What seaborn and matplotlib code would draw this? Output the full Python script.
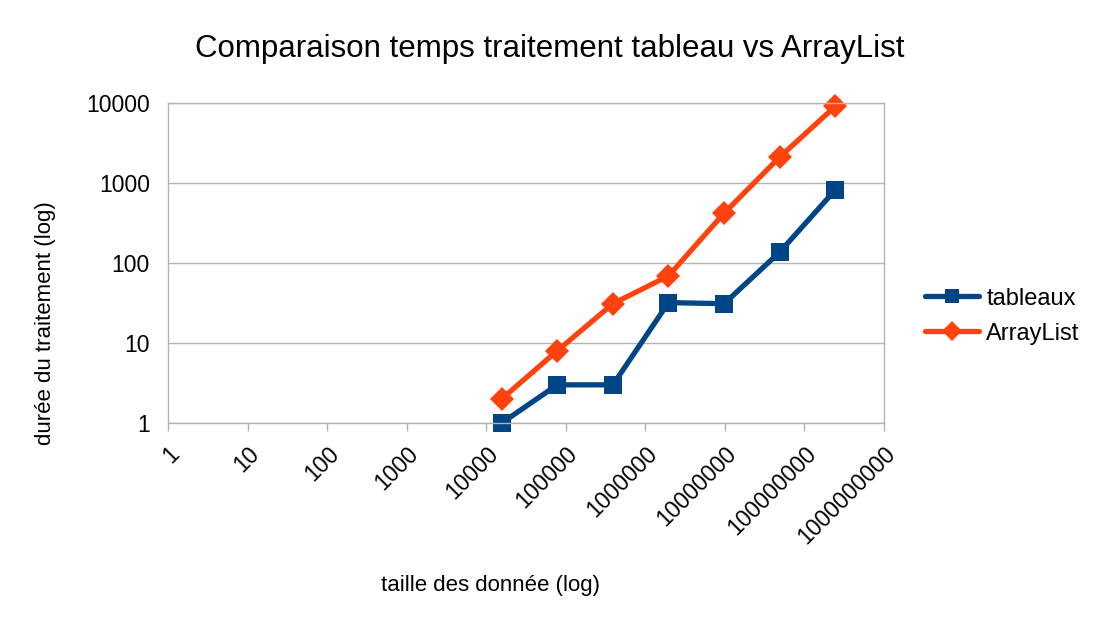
import matplotlib
matplotlib.use("Agg")
import matplotlib.pyplot as plt
import matplotlib.ticker as mticker
import pandas as pd
import seaborn as sns

# Données (échelles log)
tailles = [15625, 78125, 390625, 1953125, 9765625, 48828125, 244140625]
tableaux = [1, 3, 3, 32, 31, 137, 820]
arraylist = [2, 8, 31, 69, 420, 2110, 9120]
series = ["tableaux", "ArrayList"]
x_ticks = [10 ** k for k in range(10)]
y_ticks = [1, 10, 100, 1000, 10000]

df = pd.DataFrame({
    "taille": tailles * 2,
    "duree": tableaux + arraylist,
    "serie": [series[0]] * len(tailles) + [series[1]] * len(tailles),
})

sns.set_theme(style="white")
plt.rcParams["font.family"] = ["Liberation Sans", "DejaVu Sans"]
plt.rcParams["text.color"] = "black"
plt.rcParams["xtick.labelcolor"] = "black"
plt.rcParams["ytick.labelcolor"] = "black"

fig = plt.figure(figsize=(10.99, 6.29), dpi=100)
ax = fig.add_axes([0.1529, 0.3275, 0.6515, 0.5087])

palette = {"tableaux": "#004586", "ArrayList": "#ff420e"}
sns.lineplot(data=df, x="taille", y="duree", hue="serie", style="serie",
             markers={"tableaux": "s", "ArrayList": "D"}, dashes=False,
             palette=palette, linewidth=3.8, markersize=12.5,
             markeredgewidth=0, ax=ax, legend=True)
# Les marqueurs aux bords ne sont pas coupés
for line in ax.lines:
    line.set_clip_on(False)

ax.set_xscale("log")
ax.set_yscale("log")
ax.set_xlim(1, 1e9)
ax.set_ylim(1, 10000)
ax.set_xticks(x_ticks)
ax.set_yticks(y_ticks)
ax.xaxis.set_minor_locator(mticker.NullLocator())
ax.yaxis.set_minor_locator(mticker.NullLocator())
ax.set_xticklabels([str(v) for v in x_ticks], rotation=45, ha="right",
                   rotation_mode="anchor", fontsize=16.5)
ax.set_yticklabels([str(v) for v in y_ticks], fontsize=16.5)
ax.tick_params(axis="x", length=6, width=1, color="#b3b3b3", bottom=True, pad=8)
ax.tick_params(axis="y", length=0, pad=13)

ax.yaxis.grid(True, color="#b3b3b3", linewidth=1)
ax.xaxis.grid(False)
for sp in ax.spines.values():
    sp.set_color("#b3b3b3")
    sp.set_linewidth(1)

ax.set_xlabel("")
ax.set_ylabel("")
fig.text(0.446, 0.069, "taille des donnée (log)", ha="center", va="center", fontsize=16)
fig.text(0.041, 0.486, "durée du traitement (log)", ha="center", va="center",
         rotation=90, fontsize=16)
fig.suptitle("Comparaison temps traitement tableau vs ArrayList",
             x=0.5, y=0.946, fontsize=22.5)

leg = ax.legend(loc="center left", bbox_to_anchor=(1.044, 0.334), frameon=False,
                borderaxespad=0, fontsize=17, handlelength=2.3, handletextpad=0.3,
                labelspacing=0.55, markerscale=0.8)

fig.savefig("out.png", dpi=100)
